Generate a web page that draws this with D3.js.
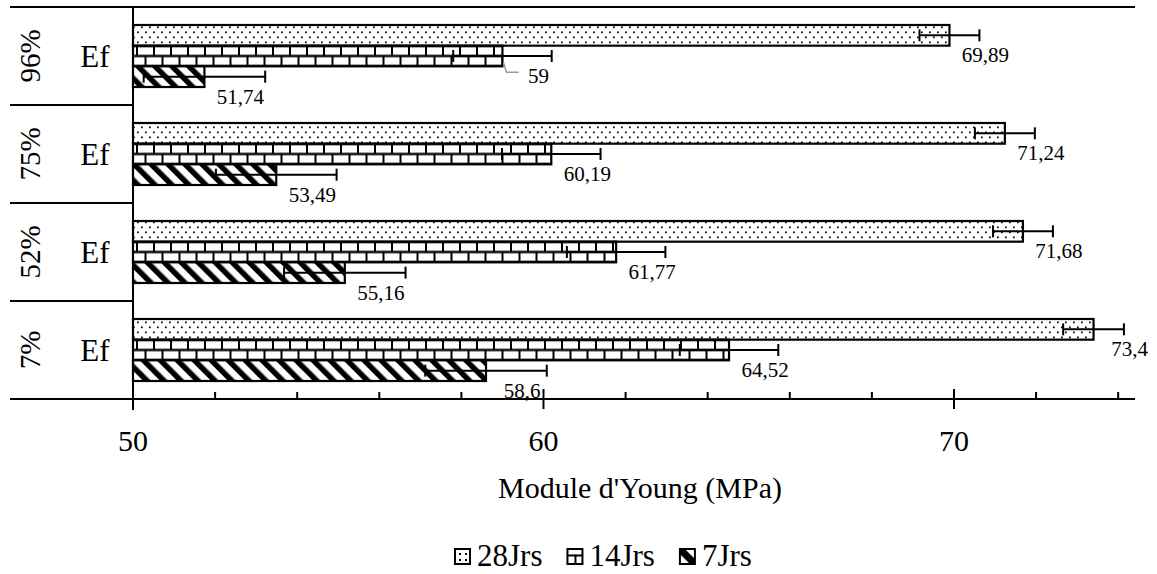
<!DOCTYPE html>
<html>
<head>
<meta charset="utf-8">
<script src="https://cdn.jsdelivr.net/npm/d3@7"></script>
<style>
  html, body { margin: 0; padding: 0; background: #fff; }
  svg { display: block; }
  text { font-family: "Liberation Serif", "Times New Roman", serif; fill: #000; }
</style>
</head>
<body>
<svg id="chart" width="1157" height="574"></svg>
<script>
// ---- data ----
const categories = ["96%", "75%", "52%", "7%"];
const innerLabel = "Ef";
const seriesNames = ["28Jrs", "14Jrs", "7Jrs"];
const values28 = [69.89, 71.24, 71.68, 73.4];
const values14 = [59, 60.19, 61.77, 64.52];
const values7 = [51.74, 53.49, 55.16, 58.6];
const err28 = [0.73, 0.73, 0.73, 0.74];
const err14 = [1.2, 1.2, 1.2, 1.2];
const err7 = [1.48, 1.47, 1.48, 1.48];
const labels28 = ["69,89", "71,24", "71,68", "73,4"];
const labels14 = ["59", "60,19", "61,77", "64,52"];
const labels7 = ["51,74", "53,49", "55,16", "58,6"];
const xTickValues = [50, 60, 70];
const xMinorTicks = [52, 54, 56, 58, 62, 64, 66, 68, 72, 74];
const xTitle = "Module d'Young (MPa)";

(function () {
const seriesVals = { "28Jrs": values28, "14Jrs": values14, "7Jrs": values7 };
const seriesErr = { "28Jrs": err28, "14Jrs": err14, "7Jrs": err7 };
const seriesLab = { "28Jrs": labels28, "14Jrs": labels14, "7Jrs": labels7 };
const rows = [];
categories.forEach((c, i) => {
  seriesNames.forEach(s => {
    rows.push({ cat: c, series: s, value: seriesVals[s][i], err: seriesErr[s][i], label: seriesLab[s][i], idx: i });
  });
});

const svg = d3.select("#chart");
const pLeft = 133, pRight = 1135, pTop = 7, pBottom = 399, frameLeft = 10;

const x = d3.scaleLinear().domain([50, 74.41]).range([pLeft, pRight]);
const y = d3.scaleBand().domain(categories).range([pTop, pBottom]);
const yInner = d3.scaleBand().domain(seriesNames).range([18, 80]).paddingInner(0.0);

// ---- patterns ----
const defs = svg.append("defs");
const pDots = defs.append("pattern").attr("id", "p28").attr("patternUnits", "userSpaceOnUse")
  .attr("width", 8).attr("height", 10);
pDots.append("rect").attr("width", 8).attr("height", 10).attr("fill", "#fff");
pDots.append("rect").attr("x", 1).attr("y", 1.5).attr("width", 1.7).attr("height", 1.7).attr("fill", "#000");
pDots.append("rect").attr("x", 5).attr("y", 6.5).attr("width", 1.7).attr("height", 1.7).attr("fill", "#000");
const pHatch = defs.append("pattern").attr("id", "p7").attr("patternUnits", "userSpaceOnUse")
  .attr("width", 12).attr("height", 12).attr("patternTransform", "rotate(-45)");
pHatch.append("rect").attr("width", 12).attr("height", 12).attr("fill", "#fff");
pHatch.append("rect").attr("x", 0).attr("y", 0).attr("width", 5.5).attr("height", 12).attr("fill", "#000");
function brickPattern(id, y0, h) {
  const p = defs.append("pattern").attr("id", id).attr("patternUnits", "userSpaceOnUse")
    .attr("x", 0).attr("y", y0).attr("width", 17).attr("height", h);
  p.append("rect").attr("width", 17).attr("height", h).attr("fill", "#fff");
  const half = h / 2;
  p.append("rect").attr("x", 0).attr("y", half - 1.2).attr("width", 17).attr("height", 2.4).attr("fill", "#000");
  p.append("rect").attr("x", 0).attr("y", 0).attr("width", 17).attr("height", 1.5).attr("fill", "#000");
  p.append("rect").attr("x", 0).attr("y", h - 1.5).attr("width", 17).attr("height", 1.5).attr("fill", "#000");
  p.append("rect").attr("x", 0).attr("y", 0).attr("width", 2).attr("height", half).attr("fill", "#000");
  p.append("rect").attr("x", 8.5).attr("y", half).attr("width", 2).attr("height", half).attr("fill", "#000");
}
categories.forEach((c, i) => brickPattern("p14_" + i, y(c) + yInner("14Jrs"), yInner.bandwidth()));
const lgBrick = defs.append("pattern").attr("id", "lg14").attr("patternUnits", "objectBoundingBox")
  .attr("width", 1).attr("height", 1);
lgBrick.append("rect").attr("width", 16).attr("height", 16).attr("fill", "#fff");
lgBrick.append("rect").attr("x", 0).attr("y", 5.5).attr("width", 16).attr("height", 2).attr("fill", "#000");
lgBrick.append("rect").attr("x", 7).attr("y", 5.5).attr("width", 2).attr("height", 10).attr("fill", "#000");
const lgDots = defs.append("pattern").attr("id", "lg28").attr("patternUnits", "objectBoundingBox")
  .attr("width", 1).attr("height", 1);
lgDots.append("rect").attr("width", 16).attr("height", 16).attr("fill", "#fff");
[[4,4],[10,4],[4,10],[10,10]].forEach(d => lgDots.append("rect").attr("x", d[0]).attr("y", d[1]).attr("width", 2).attr("height", 2).attr("fill", "#000"));
const lgHatch = defs.append("pattern").attr("id", "lg7").attr("patternUnits", "objectBoundingBox")
  .attr("width", 1).attr("height", 1);
lgHatch.append("rect").attr("width", 16).attr("height", 16).attr("fill", "#fff");
lgHatch.append("path").attr("d", "M0,0 L5,0 L16,11 L16,16 L11,16 L0,5 Z").attr("fill", "#000");

function fillFor(d) {
  if (d.series === "28Jrs") return "url(#p28)";
  if (d.series === "7Jrs") return "url(#p7)";
  return "url(#p14_" + d.idx + ")";
}

// ---- frame lines ----
const frame = svg.append("g").attr("stroke", "#000").attr("stroke-width", 2);
frame.append("line").attr("x1", frameLeft).attr("x2", pRight).attr("y1", pTop).attr("y2", pTop);
categories.slice(1).forEach(c => {
  frame.append("line").attr("x1", frameLeft).attr("x2", pLeft).attr("y1", y(c)).attr("y2", y(c));
});

// ---- bars ----
svg.append("g").selectAll("rect.bar").data(rows).join("rect")
  .attr("class", "bar")
  .attr("x", x(50))
  .attr("y", d => y(d.cat) + yInner(d.series))
  .attr("width", d => x(d.value) - x(50))
  .attr("height", yInner.bandwidth())
  .attr("fill", fillFor)
  .attr("stroke", "#000").attr("stroke-width", 2.2);

// ---- error bars ----
const errG = svg.append("g").attr("stroke", "#000").attr("stroke-width", 2);
rows.forEach(d => {
  const cy = y(d.cat) + yInner(d.series) + yInner.bandwidth() / 2;
  errG.append("line").attr("x1", x(d.value - d.err)).attr("x2", x(d.value + d.err)).attr("y1", cy).attr("y2", cy);
  errG.append("line").attr("x1", x(d.value - d.err)).attr("x2", x(d.value - d.err)).attr("y1", cy - 6).attr("y2", cy + 6);
  errG.append("line").attr("x1", x(d.value + d.err)).attr("x2", x(d.value + d.err)).attr("y1", cy - 6).attr("y2", cy + 6);
});

// ---- value labels ----
svg.append("g").selectAll("text").data(rows).join("text")
  .attr("x", d => x(d.value) + 36)
  .attr("y", d => y(d.cat) + yInner(d.series) + yInner.bandwidth() / 2 + 27)
  .attr("text-anchor", "middle")
  .attr("font-size", 21)
  .text(d => d.label);

const r59 = rows.find(d => d.series === "14Jrs" && d.idx === 0);
const cy59 = y(r59.cat) + yInner(r59.series) + yInner.bandwidth();
svg.append("polyline")
  .attr("points", [[x(r59.value) + 1, cy59 - 4], [x(r59.value) + 4, cy59 + 6], [x(r59.value) + 16, cy59 + 6]].map(p => p.join(",")).join(" "))
  .attr("fill", "none").attr("stroke", "#999").attr("stroke-width", 1.5);

// ---- axes ----
const axisG = svg.append("g");
axisG.append("line").attr("x1", frameLeft).attr("x2", pRight).attr("y1", pBottom).attr("y2", pBottom)
  .attr("stroke", "#000").attr("stroke-width", 2);
axisG.append("line").attr("x1", pLeft).attr("x2", pLeft).attr("y1", pTop).attr("y2", pBottom + 11)
  .attr("stroke", "#000").attr("stroke-width", 2);
axisG.selectAll("line.minor").data(xMinorTicks).join("line").attr("class", "minor")
  .attr("x1", d => x(d)).attr("x2", d => x(d)).attr("y1", pBottom - 7).attr("y2", pBottom)
  .attr("stroke", "#000").attr("stroke-width", 2);
axisG.selectAll("line.major").data(xTickValues).join("line").attr("class", "major")
  .attr("x1", d => x(d)).attr("x2", d => x(d)).attr("y1", pBottom - 10).attr("y2", pBottom + 10)
  .attr("stroke", "#000").attr("stroke-width", 2);
axisG.selectAll("text.tick").data(xTickValues).join("text").attr("class", "tick")
  .attr("x", d => x(d)).attr("y", 451)
  .attr("text-anchor", "middle").attr("font-size", 30)
  .text(d => d3.format("d")(d));
svg.append("text").attr("x", 640).attr("y", 498)
  .attr("text-anchor", "middle").attr("font-size", 30).text(xTitle);

// ---- category labels ----
categories.forEach(c => {
  const cy = y(c) + y.bandwidth() / 2;
  svg.append("text").attr("transform", `translate(40,${cy}) rotate(-90)`)
    .attr("text-anchor", "middle").attr("font-size", 29).text(c);
  svg.append("text").attr("x", 95).attr("y", cy + 11)
    .attr("text-anchor", "middle").attr("font-size", 31).text(innerLabel);
});

// ---- legend ----
const legend = svg.append("g").attr("transform", "translate(455,549)");
const lgFill = { "28Jrs": "url(#lg28)", "14Jrs": "url(#lg14)", "7Jrs": "url(#lg7)" };
let lx = 0;
seriesNames.forEach(s => {
  const g = legend.append("g").attr("transform", `translate(${lx},0)`);
  g.append("rect").attr("x", 0).attr("y", 0).attr("width", 15).attr("height", 15)
    .attr("fill", lgFill[s]).attr("stroke", "#000").attr("stroke-width", 2);
  const t = g.append("text").attr("x", 22).attr("y", 17).attr("font-size", 31).text(s);
  lx += 22 + t.node().getComputedTextLength() + 25;
});
})();
</script>
</body>
</html>
